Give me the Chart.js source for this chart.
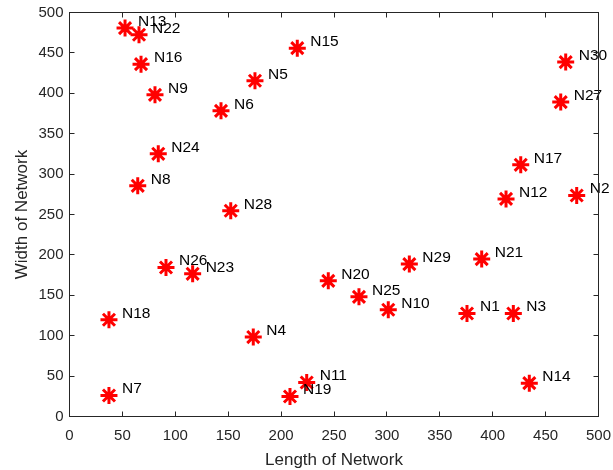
<!DOCTYPE html>
<html>
<head>
<meta charset="utf-8">
<script src="https://cdn.jsdelivr.net/npm/chart.js@4"></script>
<style>
  html, body { margin: 0; padding: 0; background: #fff; }
  #wrap { width: 613px; height: 470px; }
</style>
</head>
<body>
<div id="wrap"><canvas id="netChart" width="613" height="470"></canvas></div>
<script>
// node names and their positions (length, width)
const nodeNames = ['N1', 'N2', 'N3', 'N4', 'N5', 'N6', 'N7', 'N8', 'N9', 'N10',
  'N11', 'N12', 'N13', 'N14', 'N15', 'N16', 'N17', 'N18', 'N19', 'N20',
  'N21', 'N22', 'N23', 'N24', 'N25', 'N26', 'N27', 'N28', 'N29', 'N30'];
const nodeLength = [375.7, 479.4, 419.5, 173.7, 175.3, 143.2, 37.3, 64.5, 80.8, 301.3,
  224.2, 412.6, 52.5, 434.6, 215.3, 67.6, 426.5, 37.3, 208.4, 244.6,
  389.6, 65.7, 116.4, 83.9, 273.6, 91.2, 464.3, 152.4, 321.2, 469];
const nodeWidth = [127.5, 273.5, 127.5, 98.3, 415.5, 378.3, 26, 285.5, 398.1, 132.1,
  42.1, 269.3, 480.7, 41.3, 455.9, 436.1, 311.5, 119.7, 24.8, 167.9,
  194.8, 472.4, 176.6, 325.1, 148.1, 184.4, 389.1, 254.6, 188.6, 438.6];
const axisMin = 0;
const axisMax = 500;
const axisStep = 50;

const axisColor = '#262626';
Chart.defaults.font.family = 'Arial, "Liberation Sans", Helvetica, sans-serif';
Chart.defaults.color = axisColor;

const points = nodeLength.map((x, i) => ({ x: x, y: nodeWidth[i] }));

// box round the plot with inward ticks on all four sides
const boxPlugin = {
  id: 'box',
  afterDraw(chart) {
    const ctx = chart.ctx;
    const a = chart.chartArea;
    const xs = chart.scales.x, ys = chart.scales.y;
    const snap = v => Math.round(v - 0.5) + 0.5;
    ctx.save();
    ctx.strokeStyle = axisColor;
    ctx.lineWidth = 1;
    ctx.beginPath();
    xs.ticks.forEach(t => {
      const px = snap(xs.getPixelForValue(t.value));
      ctx.moveTo(px, a.bottom); ctx.lineTo(px, a.bottom - 5);
      ctx.moveTo(px, a.top); ctx.lineTo(px, a.top + 5);
    });
    ys.ticks.forEach(t => {
      const py = snap(ys.getPixelForValue(t.value));
      ctx.moveTo(a.left, py); ctx.lineTo(a.left + 5, py);
      ctx.moveTo(a.right, py); ctx.lineTo(a.right - 5, py);
    });
    ctx.stroke();
    ctx.strokeRect(a.left, a.top, a.right - a.left, a.bottom - a.top);
    ctx.restore();
  }
};

// node name next to each marker
const namePlugin = {
  id: 'names',
  afterDatasetsDraw(chart) {
    const ctx = chart.ctx;
    const meta = chart.getDatasetMeta(0);
    ctx.save();
    ctx.fillStyle = '#000';
    ctx.font = '15.5px Arial, "Liberation Sans", sans-serif';
    ctx.textBaseline = 'middle';
    ctx.textAlign = 'left';
    meta.data.forEach((el, i) => {
      ctx.fillText(nodeNames[i], el.x + 13, el.y - 6.5);
    });
    ctx.restore();
  }
};

// keep tick labels from pushing the plot area inwards
function noOverhang(scale) {
  scale.paddingLeft = 0;
  scale.paddingRight = 0;
  scale.paddingTop = 0;
  scale.paddingBottom = 0;
}

new Chart(document.getElementById('netChart'), {
  type: 'scatter',
  data: {
    datasets: [{
      data: points,
      pointStyle: 'star',
      pointRadius: 8.5,
      pointHoverRadius: 8.5,
      borderColor: '#ff0000',
      backgroundColor: '#ff0000',
      pointBorderWidth: 3,
      showLine: false
    }]
  },
  options: {
    responsive: false,
    animation: false,
    clip: false,
    layout: { padding: { top: 12.5, right: 14.5, left: 0, bottom: 0 } },
    plugins: {
      legend: { display: false },
      tooltip: { enabled: false }
    },
    scales: {
      x: {
        type: 'linear',
        min: axisMin,
        max: axisMax,
        grid: { display: false },
        border: { display: false },
        ticks: { stepSize: axisStep, padding: 2, font: { size: 15 }, color: axisColor, maxRotation: 0 },
        title: { display: true, text: 'Length of Network', font: { size: 17 }, color: axisColor, padding: { top: 2, bottom: -1 } },
        afterFit(scale) { scale.height = 53.5; noOverhang(scale); }
      },
      y: {
        type: 'linear',
        min: axisMin,
        max: axisMax,
        grid: { display: false },
        border: { display: false },
        ticks: { stepSize: axisStep, padding: -2, font: { size: 15 }, color: axisColor },
        title: { display: true, text: 'Width of Network', font: { size: 17 }, color: axisColor, padding: { top: 12, bottom: 0 } },
        afterFit(scale) { scale.width = 69.5; noOverhang(scale); }
      }
    }
  },
  plugins: [boxPlugin, namePlugin]
});
</script>
</body>
</html>
